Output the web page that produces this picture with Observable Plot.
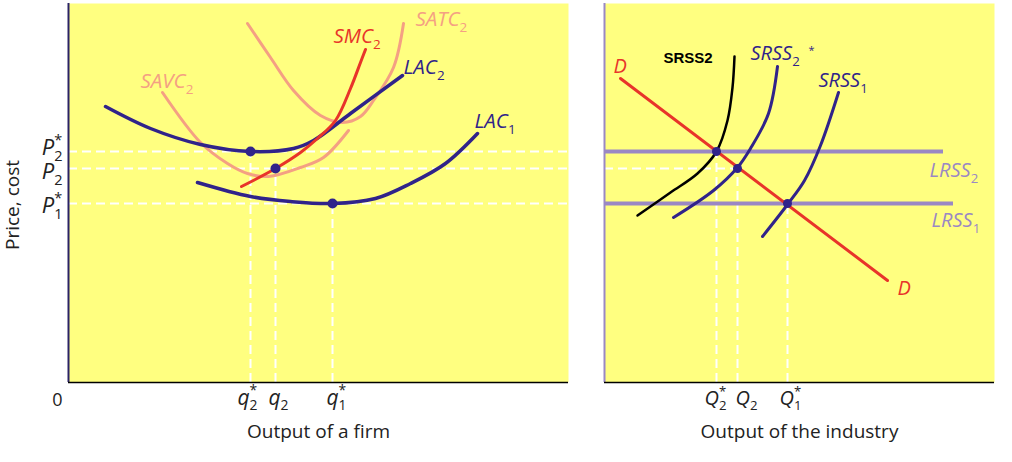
<!DOCTYPE html>
<html>
<head>
<meta charset="utf-8">
<script src="https://cdn.jsdelivr.net/npm/d3@7"></script>
<script src="https://cdn.jsdelivr.net/npm/@observablehq/plot@0.6"></script>
<style>
  html, body { margin: 0; padding: 0; background: #fff; }
  #chart { display: flex; width: 1012px; height: 462px; }
</style>
</head>
<body>
<div id="chart"></div>
<script>
// ---------- Data (firm panel: quantity 0–100, price 0–75.8) ----------
const firmPriceTicks = [46.2, 42.8, 35.8];
const firmPriceLabelY = [46.9, 42.1, 35.4];
const firmPriceLabels = ["P_2^*", "P_2", "P_1^*"];
const firmQTicks = [36.4, 41.4, 52.8];
const firmQLabelX = [35.8, 42.0, 53.6];
const firmQLabels = ["q_2^*", "q_2", "q_1^*"];

const lac2 = [[7.4,55.2],[16.4,50.8],[26.4,47.6],[36.4,46.2],[45,46.8],[49,48.4],[56.4,53.8],[66.8,61.4]];
const lac1 = [[25.8,40],[36.4,37.2],[44.4,36.2],[52.8,35.8],[61.4,36.8],[68.4,39.8],[75.4,43.8],[81.8,49.8]];
const savc2 = [[18.8,58],[26.4,48],[31.8,43.8],[35.8,41.8],[40,41.2],[46.4,43],[51,45],[56,50.4]];
const satc2 = [[35.8,71.8],[40.4,65],[45,58.4],[50.4,53.4],[54.8,52],[58.4,53.2],[61,56.4],[65,63],[67,71.8]];
const smc2 = [[34.6,39.2],[41.4,42.8],[46.4,46],[49.8,48.8],[53.4,52.4],[56.4,58.8],[58.4,64],[59.4,66.6]];
const firmEquilibria = [[36.4,46.2],[41.4,42.8],[52.8,35.8]];
const firmCurveLabels = [
  {x: 14.4, y: 60.2, text: "SAVC_2", kind: "salmon"},
  {x: 69.4, y: 72.6, text: "SATC_2", kind: "salmon"},
  {x: 53.0, y: 69.2, text: "SMC_2", kind: "red"},
  {x: 67.0, y: 63.0, text: "LAC_2", kind: "navy"},
  {x: 81.2, y: 52.2, text: "LAC_1", kind: "navy"}
];

// ---------- Data (industry panel: quantity 0–78, price 0–75.8) ----------
const indQTicks = [22.4, 26.6, 36.6];
const indQLabelX = [22.2, 28.4, 37.2];
const indQLabels = ["Q_2^*", "Q_2", "Q_1^*"];
const demand = [[3.2,60.8],[56.6,20.4]];
const lrss2 = {p: 46.2, q1: 0, q2: 67.8};
const lrss1 = {p: 35.8, q1: 0, q2: 69.8};
const srss2Black = [[26,65.2],[25.6,59],[24.6,52.4],[22.4,46.2],[18.6,41.8],[13.2,38],[6.6,33.4]];
const srss2Star = [[34.6,63.2],[32.8,53.8],[29.2,46.8],[26.6,43],[21.8,38.4],[13.8,33]];
const srss1 = [[46.8,58],[43.2,47.4],[40,40.4],[36.6,35.6],[31.6,29.2]];
const indEquilibria = [[22.4,46.2],[26.6,42.8],[36.6,35.8]];
const indCurveLabels = [
  {x: 1.8, y: 63.2, text: "D", kind: "red"},
  {x: 58.6, y: 18.8, text: "D", kind: "red"},
  {x: 29.2, y: 65.8, text: "SRSS_2", kind: "navy"},
  {x: 42.8, y: 60.4, text: "SRSS_1", kind: "navy"},
  {x: 65.0, y: 42.4, text: "LRSS_2", kind: "lav"},
  {x: 65.4, y: 32.4, text: "LRSS_1", kind: "lav"}
];

// ---------- Styles ----------
const YELLOW = "#ffff80", NAVY = "#30238a", SALMON = "#f4a083", RED = "#e8342a",
      LAV = "#9a88c4", AXISNAVY = "#2a2266";
const colorOf = {salmon: SALMON, red: RED, navy: NAVY, lav: LAV};
const FONT = "'Open Sans', 'Liberation Sans', sans-serif";
const dash = {stroke: "white", strokeWidth: 2, strokeDasharray: "9,5"};
const pts = a => a.map(([x, y]) => ({x, y}));

const firm = Plot.plot({
  width: 590, height: 462,
  marginLeft: 68, marginRight: 22, marginTop: 3, marginBottom: 80,
  x: {domain: [0, 100], axis: null},
  y: {domain: [0, 75.8], axis: null},
  style: {fontFamily: FONT, background: "transparent", overflow: "visible"},
  marks: [
    Plot.frame({fill: YELLOW, stroke: null}),
    Plot.ruleY(firmPriceTicks, {y: d => d, ...dash}),
    Plot.ruleX(firmEquilibria.map(([x, y]) => ({x, y})), {x: "x", y1: 0, y2: "y", ...dash}),
    Plot.line(pts(savc2), {x: "x", y: "y", stroke: SALMON, strokeWidth: 3, curve: "catmull-rom"}),
    Plot.line(pts(satc2), {x: "x", y: "y", stroke: SALMON, strokeWidth: 3, curve: "catmull-rom"}),
    Plot.line(pts(lac1), {x: "x", y: "y", stroke: NAVY, strokeWidth: 3.5, curve: "catmull-rom"}),
    Plot.line(pts(lac2), {x: "x", y: "y", stroke: NAVY, strokeWidth: 3.5, curve: "catmull-rom"}),
    Plot.line(pts(smc2), {x: "x", y: "y", stroke: RED, strokeWidth: 3, curve: "catmull-rom"}),
    Plot.dot(pts(firmEquilibria), {x: "x", y: "y", r: 5, fill: NAVY, stroke: null}),
    Plot.ruleX([0], {stroke: AXISNAVY, strokeWidth: 2}),
    Plot.ruleY([0], {stroke: "black", strokeWidth: 1.5}),
    Plot.text(firmCurveLabels, {x: "x", y: "y", text: "text", fill: d => colorOf[d.kind],
      textAnchor: "start", fontSize: 20.5, fontStyle: "italic"}),
    Plot.text(firmPriceLabelY.map((y, i) => ({y, label: firmPriceLabels[i]})),
      {y: "y", text: "label", frameAnchor: "left", dx: -6, textAnchor: "end",
       fontSize: 22, fontStyle: "italic", fill: "#222"}),
    Plot.text(firmQLabelX.map((x, i) => ({x, label: firmQLabels[i]})),
      {x: "x", text: "label", frameAnchor: "bottom", dy: 22, fontSize: 21, fontStyle: "italic", fill: "#222"}),
    Plot.text(["0"], {frameAnchor: "bottom-left", dx: -11, dy: 23, textAnchor: "middle", fontSize: 18, fill: "#222"}),
    Plot.text(["Output of a firm"], {frameAnchor: "bottom", dy: 55, fontSize: 19, fill: "#222"}),
    Plot.text(["Price, cost"], {frameAnchor: "left", dx: -56, dy: 12, rotate: -90, textAnchor: "middle",
      fontSize: 19, fill: "#222"})
  ]
});

const industry = Plot.plot({
  width: 422, height: 462,
  marginLeft: 14, marginRight: 18, marginTop: 3, marginBottom: 80,
  x: {domain: [0, 78], axis: null},
  y: {domain: [0, 75.8], axis: null},
  style: {fontFamily: FONT, background: "transparent", overflow: "visible"},
  marks: [
    Plot.frame({fill: YELLOW, stroke: null}),
    Plot.ruleY([42.8], {x1: 0, x2: 26.6, ...dash}),
    Plot.ruleX(indEquilibria.map(([x, y]) => ({x, y})), {x: "x", y1: 0, y2: "y", ...dash}),
    Plot.ruleY([lrss2, lrss1], {y: "p", x1: "q1", x2: "q2", stroke: LAV, strokeWidth: 4}),
    Plot.line(pts(demand), {x: "x", y: "y", stroke: RED, strokeWidth: 3}),
    Plot.line(pts(srss2Black), {x: "x", y: "y", stroke: "black", strokeWidth: 2.5, curve: "catmull-rom"}),
    Plot.line(pts(srss2Star), {x: "x", y: "y", stroke: NAVY, strokeWidth: 3, curve: "catmull-rom"}),
    Plot.line(pts(srss1), {x: "x", y: "y", stroke: NAVY, strokeWidth: 3, curve: "catmull-rom"}),
    Plot.dot(pts(indEquilibria), {x: "x", y: "y", r: 4.5, fill: NAVY, stroke: null}),
    Plot.ruleX([0], {stroke: LAV, strokeWidth: 2}),
    Plot.ruleY([0], {stroke: "black", strokeWidth: 1.5}),
    Plot.text(indCurveLabels, {x: "x", y: "y", text: "text", fill: d => colorOf[d.kind],
      textAnchor: "start", fontSize: 20, fontStyle: "italic"}),
    Plot.text([{x: 40.8, y: 66.4}], {x: "x", y: "y", text: () => "*", fill: NAVY, fontSize: 11, textAnchor: "start"}),
    Plot.text([{x: 11.8, y: 64.8}], {x: "x", y: "y", text: () => "SRSS2", fill: "black", fontSize: 15,
      fontWeight: "bold", fontFamily: "'Liberation Sans', Arial, sans-serif", textAnchor: "start"}),
    Plot.text(indQLabelX.map((x, i) => ({x, label: indQLabels[i]})),
      {x: "x", text: "label", frameAnchor: "bottom", dy: 22, fontSize: 20, fontStyle: "italic", fill: "#222"}),
    Plot.text(["Output of the industry"], {frameAnchor: "bottom", dy: 55, fontSize: 19, fill: "#222"})
  ]
});

const chart = document.getElementById("chart");
chart.append(firm, industry);

// Turn "A_2^*" into text with subscript / stacked superscript
function richify(root) {
  const NS = "http://www.w3.org/2000/svg";
  root.querySelectorAll("text").forEach(t => {
    const s = t.textContent;
    if (!/[_^]/.test(s)) return;
    const m = s.match(/^([^_^]*)(?:_([^_^]+))?(?:\^([^_^]+))?$/);
    if (!m) return;
    const fs = parseFloat(getComputedStyle(t).fontSize) || 18;
    while (t.firstChild) t.removeChild(t.firstChild);
    t.appendChild(document.createTextNode(m[1]));
    let subW = 0;
    if (m[2]) {
      const ts = document.createElementNS(NS, "tspan");
      ts.textContent = m[2];
      ts.setAttribute("font-size", (0.66 * fs).toFixed(1));
      ts.setAttribute("dy", (0.28 * fs).toFixed(1));
      ts.setAttribute("font-style", "normal");
      t.appendChild(ts);
      subW = ts.getComputedTextLength();
    }
    if (m[3]) {
      const ts = document.createElementNS(NS, "tspan");
      ts.textContent = m[3];
      ts.setAttribute("font-size", (0.66 * fs).toFixed(1));
      ts.setAttribute("font-style", "normal");
      ts.setAttribute("dy", (m[2] ? -0.72 * fs : -0.45 * fs).toFixed(1));
      if (m[2]) ts.setAttribute("dx", (-subW).toFixed(1));
      t.appendChild(ts);
    }
  });
}
richify(chart);
</script>
</body>
</html>
